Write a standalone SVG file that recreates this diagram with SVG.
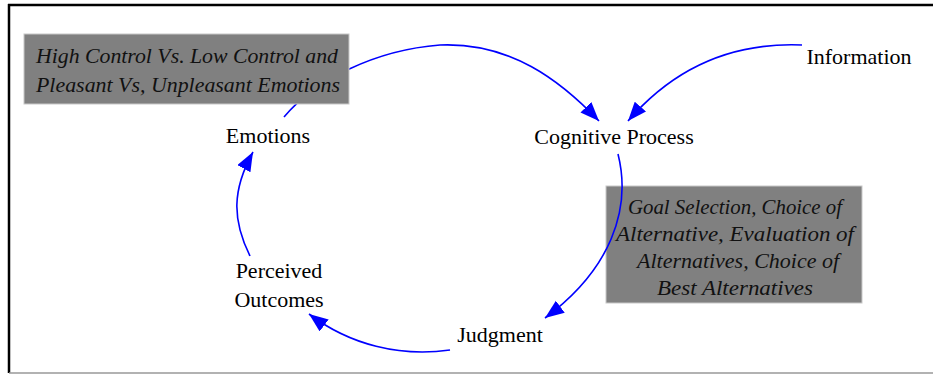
<svg xmlns="http://www.w3.org/2000/svg" width="933" height="374" viewBox="0 0 933 374">
  <style>
    .box { fill: #808080; stroke: #c8c8c8; stroke-width: 1; }
    .link { fill: none; stroke: #0000ff; stroke-width: 1.6; marker-end: url(#arrow); }
  </style>
  <defs>
    <marker id="arrow" markerUnits="userSpaceOnUse" markerWidth="20" markerHeight="16" refX="19" refY="7.5" orient="auto">
      <path d="M0,0 L19,7.5 L0,15 z" fill="#0000ff"/>
    </marker>
  </defs>

  <rect x="0" y="0" width="933" height="374" fill="#fff"/>
  <!-- frame -->
  <line x1="9" y1="4" x2="9" y2="373" stroke="#000" stroke-width="2.5"/>
  <line x1="8" y1="5" x2="933" y2="5" stroke="#000" stroke-width="2.5"/>
  <line x1="9" y1="373" x2="933" y2="373" stroke="#999" stroke-width="1.5"/>

  <!-- note under the Cognitive Process link -->
  <g id="note-cognitive">
    <rect class="box" x="606" y="186" width="256" height="117"/>
    <text font-family="Liberation Serif" font-style="italic" font-size="20" fill="#111" text-anchor="middle" x="735" y="214" textLength="214" lengthAdjust="spacingAndGlyphs">Goal Selection, Choice of</text>
    <text font-family="Liberation Serif" font-style="italic" font-size="20" fill="#111" text-anchor="middle" x="735" y="241" textLength="238" lengthAdjust="spacingAndGlyphs">Alternative, Evaluation of</text>
    <text font-family="Liberation Serif" font-style="italic" font-size="20" fill="#111" text-anchor="middle" x="738" y="268" textLength="202" lengthAdjust="spacingAndGlyphs">Alternatives, Choice of</text>
    <text font-family="Liberation Serif" font-style="italic" font-size="20" fill="#111" text-anchor="middle" x="735" y="295" textLength="156" lengthAdjust="spacingAndGlyphs">Best Alternatives</text>
  </g>

  <!-- connectors -->
  <g id="connectors">
    <path class="link" d="M284,117 C315,80 375,50 440,45 C510,42 560,80 599,121"/>
    <path class="link" d="M802,45 C730,42 672,70 628,121"/>
    <path class="link" d="M618,154 C632,210 610,270 545,318"/>
    <path class="link" d="M450,350 C400,357 350,345 309,314"/>
    <path class="link" d="M250,256 C232,220 232,190 253,152"/>
  </g>

  <g id="note-emotions">
    <rect class="box" x="24" y="34" width="325" height="70"/>
    <text font-family="Liberation Serif" font-style="italic" font-size="20" fill="#111" text-anchor="middle" x="187" y="63" textLength="302" lengthAdjust="spacingAndGlyphs">High Control Vs. Low Control and</text>
    <text font-family="Liberation Serif" font-style="italic" font-size="20" fill="#111" text-anchor="middle" x="188" y="92" textLength="304" lengthAdjust="spacingAndGlyphs">Pleasant Vs, Unpleasant Emotions</text>
  </g>
  <g id="emotions">
    <text font-family="Liberation Serif" font-size="22" text-anchor="middle" x="268" y="143">Emotions</text>
  </g>
  <g id="cognitive-process">
    <text font-family="Liberation Serif" font-size="22" text-anchor="middle" x="614" y="144">Cognitive Process</text>
  </g>
  <g id="information">
    <text font-family="Liberation Serif" font-size="22" text-anchor="middle" x="859" y="64">Information</text>
  </g>
  <g id="judgment">
    <text font-family="Liberation Serif" font-size="22" text-anchor="middle" x="500" y="342">Judgment</text>
  </g>
  <g id="perceived-outcomes">
    <text font-family="Liberation Serif" font-size="22" text-anchor="middle" x="279" y="278">Perceived</text>
    <text font-family="Liberation Serif" font-size="22" text-anchor="middle" x="279" y="307">Outcomes</text>
  </g>
</svg>
